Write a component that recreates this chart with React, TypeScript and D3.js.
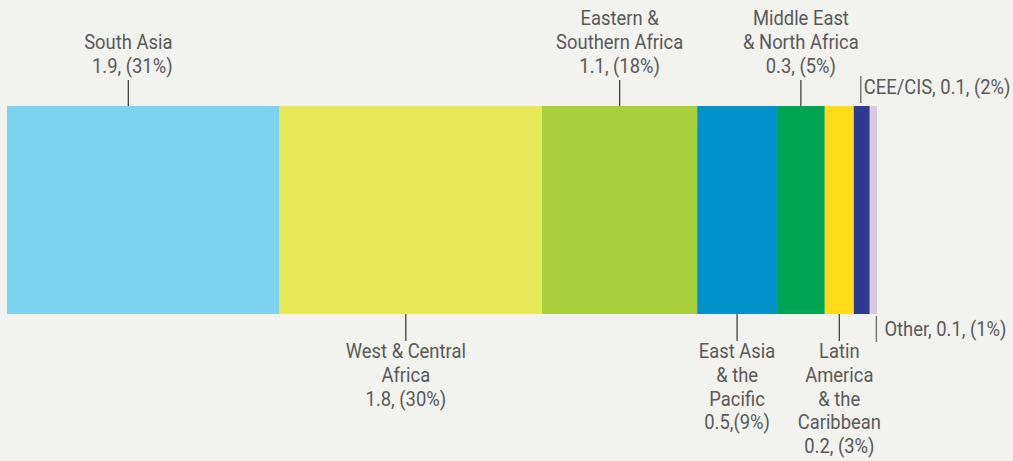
import * as d3 from "d3";
import { useEffect, useRef } from "react";

// regions, in bar order (millions)
const regions = [
  "South Asia",
  "West & Central Africa",
  "Eastern & Southern Africa",
  "East Asia & the Pacific",
  "Middle East & North Africa",
  "Latin America & the Caribbean",
  "CEE/CIS",
  "Other",
];
const values = [1.88, 1.81, 1.07, 0.55, 0.33, 0.2, 0.11, 0.05];
const valueLabels = ["1.9", "1.8", "1.1", "0.5", "0.3", "0.2", "0.1", "0.1"];
const pctLabels = ["31%", "30%", "18%", "9%", "5%", "3%", "2%", "1%"];

const colors = [
  "#7dd3ef",
  "#e8e958",
  "#a8cf39",
  "#0091c9",
  "#00a551",
  "#ffdc17",
  "#2b3990",
  "#dcc8e0",
];

// how each label is broken into lines and where it sits
const labelLines = [
  ["South Asia", "1.9, (31%)"],
  ["West & Central", "Africa", "1.8, (30%)"],
  ["Eastern &", "Southern Africa", "1.1, (18%)"],
  ["East Asia", "& the", "Pacific", "0.5,(9%)"],
  ["Middle East", "& North Africa", "0.3, (5%)"],
  ["Latin", "America", "& the", "Caribbean", "0.2, (3%)"],
  ["CEE/CIS, 0.1, (2%)"],
  ["Other, 0.1, (1%)"],
];
const labelSide = ["top", "bottom", "top", "bottom", "top", "bottom", "topSide", "bottomSide"];
const leaderShift = [-15, -5, 0, 0, 0, 0, -1, 3];

const W = 1013;
const H = 461;

const App = () => {
  const svgRef = useRef<SVGSVGElement | null>(null);

  useEffect(() => {
    const svg = d3.select(svgRef.current);
    svg.selectAll("*").remove();

    const barTop = 106;
    const barBottom = 314;
    const lineH = 23.8;
    const font = "Roboto, 'Noto Sans', sans-serif";
    const textColor = "#595959";
    const squeeze = 0.92; // condensed look

    const total = d3.sum(values);
    const x = d3.scaleLinear().domain([0, total]).range([7, 877]);
    const starts = d3.cumsum([0, ...values]);

    svg.append("rect").attr("width", W).attr("height", H).attr("fill", "#f2f2ee");

    // segments
    svg
      .append("g")
      .selectAll("rect")
      .data(values)
      .enter()
      .append("rect")
      .attr("x", (d, i) => x(starts[i]))
      .attr("y", barTop)
      .attr("width", (d, i) => x(starts[i] + d) - x(starts[i]))
      .attr("height", barBottom - barTop)
      .attr("fill", (d, i) => colors[i]);

    const labels = svg.append("g").attr("font-family", font).attr("font-size", 20).attr("fill", textColor);

    const addText = (tx: number, ty: number, t: string, anchor: string) => {
      labels.append("text")
        .attr("transform", `translate(${tx},${ty}) scale(${squeeze},1)`)
        .attr("text-anchor", anchor)
        .text(t);
    };

    regions.forEach((r, i) => {
      const cx = x(starts[i] + values[i] / 2) + leaderShift[i];
      const side = labelSide[i];
      const lines = labelLines[i];
      let y1: number, y2: number, stroke = "#333", sw = 1.2;
      if (side === "top") {
        y1 = 80; y2 = barTop;
      } else if (side === "bottom") {
        y1 = barBottom; y2 = 341;
      } else if (side === "topSide") {
        y1 = 76; y2 = 103; stroke = "#777"; sw = 1.5;
      } else {
        y1 = barBottom + 2; y2 = 342; stroke = "#777"; sw = 1.5;
      }
      svg.append("line")
        .attr("x1", cx).attr("x2", cx)
        .attr("y1", y1).attr("y2", y2)
        .attr("stroke", stroke).attr("stroke-width", sw);

      if (side === "top") {
        lines.forEach((t, j) => {
          addText(cx + (i === 0 && j === 1 ? 4 : 0), 73 - (lines.length - 1 - j) * lineH, t, "middle");
        });
      } else if (side === "bottom") {
        lines.forEach((t, j) => {
          addText(cx, 358 + j * lineH, t, "middle");
        });
      } else {
        addText(cx + (side === "topSide" ? 3 : 8), side === "topSide" ? 94 : 336, lines[0], "start");
      }
    });
  }, []);

  return (
    <svg
      ref={svgRef}
      width={W}
      height={H}
      style={{ position: "absolute", left: 0, top: 0, display: "block" }}
    ></svg>
  );
};

export default App;
